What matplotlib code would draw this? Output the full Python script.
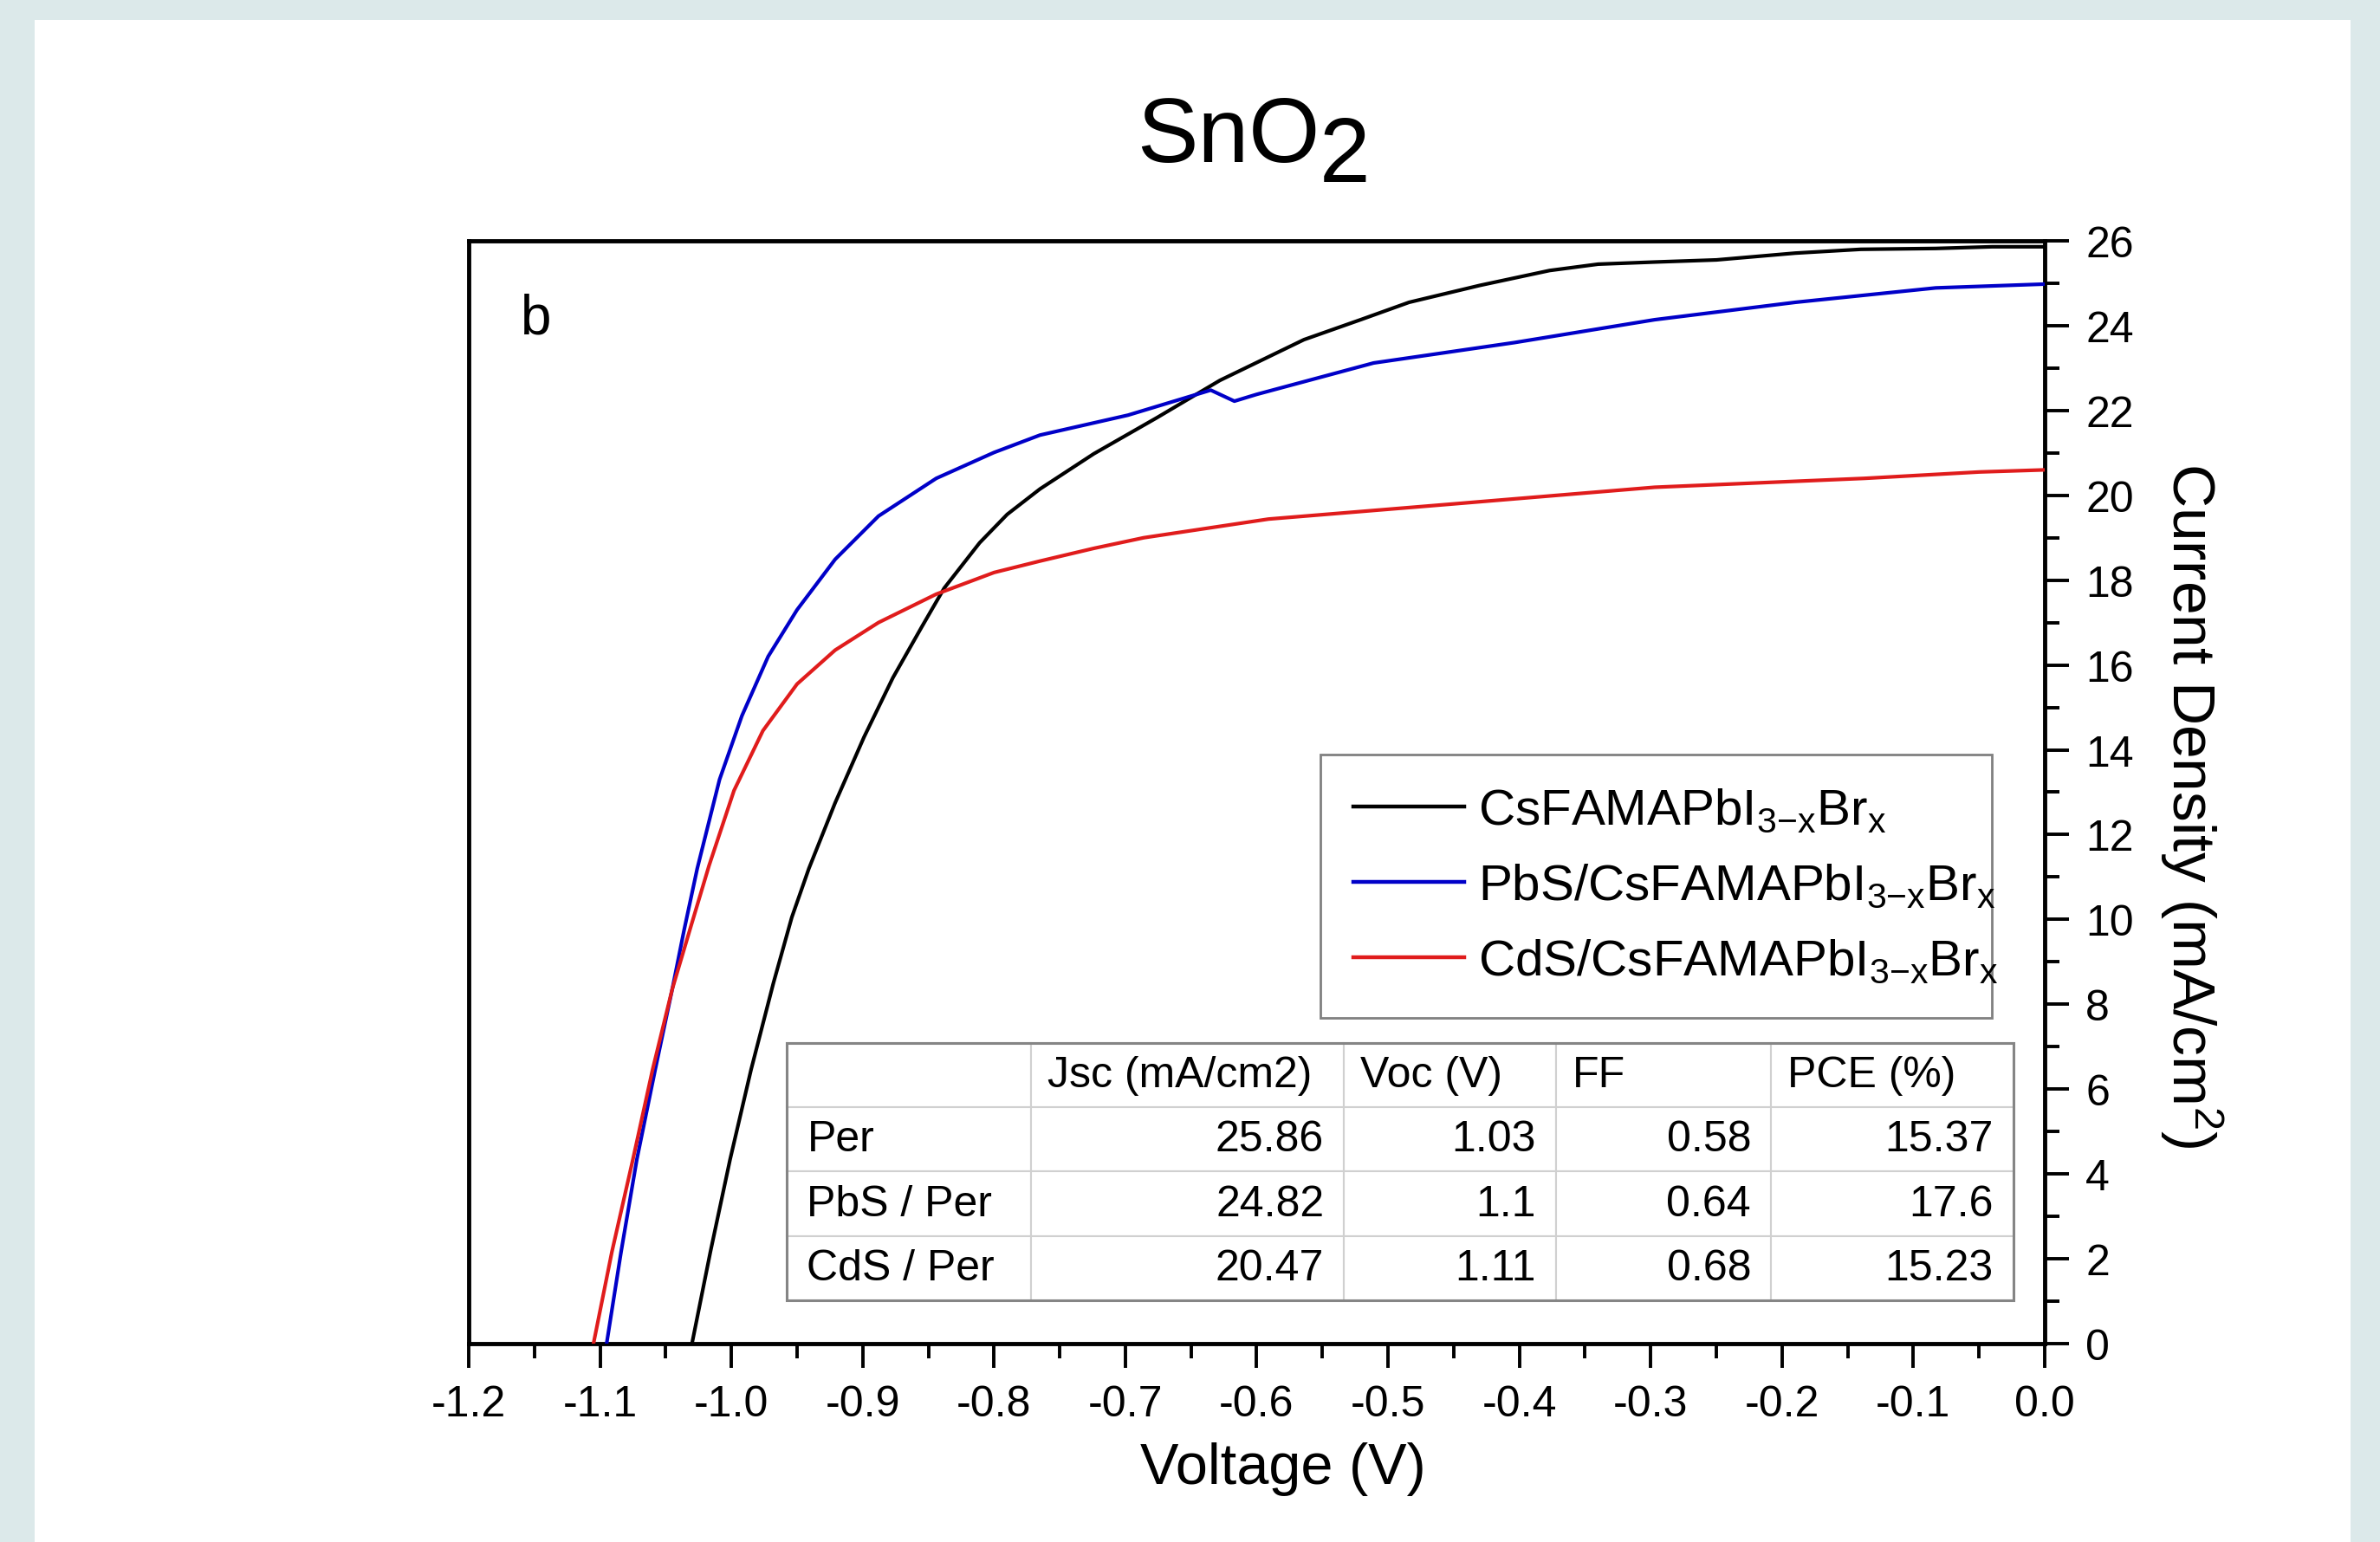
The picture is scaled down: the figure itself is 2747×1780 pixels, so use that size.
import matplotlib
matplotlib.use('Agg')
import matplotlib.pyplot as plt
from matplotlib.patches import Rectangle
from matplotlib.ticker import MultipleLocator, FuncFormatter

plt.rcParams['font.family'] = ['Liberation Sans', 'DejaVu Sans']
plt.rcParams['mathtext.fontset'] = 'custom'
plt.rcParams['mathtext.rm'] = 'Liberation Sans'
plt.rcParams['mathtext.it'] = 'Liberation Sans'
plt.rcParams['mathtext.bf'] = 'Liberation Sans:bold'
plt.rcParams['axes.unicode_minus'] = False

# J-V curves (V in volts, J in mA/cm2)
v_per = [-1.030, -1.016, -1.001, -0.985, -0.968, -0.954, -0.941, -0.921, -0.899, -0.877,
         -0.855, -0.838, -0.811, -0.790, -0.765, -0.724, -0.676, -0.628, -0.564, -0.520,
         -0.484, -0.430, -0.377, -0.340, -0.297, -0.250, -0.190, -0.140, -0.083, -0.040, 0.0]
j_per = [0.0, 2.16, 4.34, 6.46, 8.50, 10.05, 11.20, 12.75, 14.30, 15.70,
         16.90, 17.81, 18.88, 19.55, 20.15, 20.98, 21.83, 22.71, 23.67, 24.15,
         24.55, 24.95, 25.30, 25.45, 25.50, 25.55, 25.71, 25.80, 25.82, 25.86, 25.86]

v_pbs = [-1.095, -1.084, -1.072, -1.058, -1.045, -1.036, -1.026, -1.009, -0.992, -0.972,
         -0.950, -0.921, -0.888, -0.844, -0.800, -0.765, -0.698, -0.635, -0.617, -0.600,
         -0.511, -0.404, -0.297, -0.190, -0.083, 0.0]
j_pbs = [0.0, 2.16, 4.34, 6.46, 8.36, 9.75, 11.20, 13.30, 14.80, 16.20,
         17.30, 18.49, 19.51, 20.40, 21.01, 21.42, 21.89, 22.48, 22.22, 22.38,
         23.12, 23.60, 24.14, 24.55, 24.89, 24.98]

v_cds = [-1.105, -1.091, -1.075, -1.060, -1.045, -1.031, -1.017, -0.998, -0.976, -0.950,
         -0.921, -0.888, -0.844, -0.800, -0.765, -0.724, -0.686, -0.591, -0.457, -0.297,
         -0.137, -0.050, 0.0]
j_cds = [0.0, 2.16, 4.34, 6.46, 8.36, 9.82, 11.27, 13.04, 14.45, 15.55,
         16.35, 17.00, 17.67, 18.18, 18.45, 18.75, 19.00, 19.44, 19.78, 20.19,
         20.40, 20.55, 20.60]

labels = [r'CsFAMAPbI$_{3\mathrm{-}x}$Br$_x$',
          r'PbS/CsFAMAPbI$_{3\mathrm{-}x}$Br$_x$',
          r'CdS/CsFAMAPbI$_{3\mathrm{-}x}$Br$_x$']
colors = ['#000000', '#0000c8', '#e01c1c']

# device parameters table
row_names = ['Per', 'PbS / Per', 'CdS / Per']
col_names = ['Jsc (mA/cm2)', 'Voc (V)', 'FF', 'PCE (%)']
jsc = ['25.86', '24.82', '20.47']
voc = ['1.03', '1.1', '1.11']
ff = ['0.58', '0.64', '0.68']
pce = ['15.37', '17.6', '15.23']

fig = plt.figure(figsize=(27.47, 17.81), dpi=100, facecolor='#dce9ea')
fig.add_artist(Rectangle((0.01456, 0), 0.9731, 0.98652, transform=fig.transFigure,
                         facecolor='white', edgecolor='none', zorder=-1))

ax = fig.add_axes([0.19694, 0.12858, 0.66218, 0.71477])

for v, j, lab, c in zip([v_per, v_pbs, v_cds], [j_per, j_pbs, j_cds], labels, colors):
    ax.plot(v, j, color=c, lw=3.0, label=lab, zorder=3, solid_joinstyle='round')

ax.set_xlim(-1.2, 0.0)
ax.set_ylim(0, 26)

for s in ax.spines.values():
    s.set_linewidth(3.5)

ax.xaxis.set_major_locator(MultipleLocator(0.1))
ax.xaxis.set_minor_locator(MultipleLocator(0.05))
ax.xaxis.set_major_formatter(FuncFormatter(lambda v, p: '%.1f' % (0.0 if abs(v) < 1e-9 else v)))
ax.yaxis.set_major_locator(MultipleLocator(2))
ax.yaxis.set_minor_locator(MultipleLocator(1))
ax.yaxis.tick_right()
ax.tick_params(which='major', direction='out', length=20, width=2.8, labelsize=36, pad=14)
ax.tick_params(which='minor', direction='out', length=12, width=2.8)
ax.tick_params(axis='y', which='both', left=False, right=True)
ax.tick_params(axis='x', which='both', top=False, bottom=True)

ax.set_xlabel('Voltage (V)', fontsize=48, va='baseline')
ax.xaxis.set_label_coords(0.5168, -0.1265)
ax.yaxis.set_label_position('right')
ax.set_ylabel('Current Density (mA/cm$^2$)', fontsize=50, rotation=270, va='center', ha='center')
ax.yaxis.set_label_coords(1.093, 0.4886)

ax.text(0.033, 0.9167, 'b', fontsize=46, transform=ax.transAxes, ha='left', va='baseline')

leg = ax.legend(loc='upper left', bbox_to_anchor=(0.5404, 0.2985, 0.4261, 0.2357), mode='expand',
                fontsize=42, frameon=True, fancybox=False, framealpha=1, edgecolor='#808080',
                handlelength=2.2, handletextpad=0.27, borderpad=0.65, labelspacing=0.56,
                borderaxespad=0)
leg.get_frame().set_linewidth(2.0)
for h in leg.get_lines():
    h.set_linewidth(3.2)

cell_text = [list(r) for r in zip(row_names, jsc, voc, ff, pce)]
col_w = [282, 361, 245, 248, 280]
tab = ax.table(cellText=cell_text, colLabels=[''] + col_names, colWidths=col_w,
               bbox=[0.2020, 0.0393, 0.7782, 0.2333], cellLoc='right')
tab.auto_set_font_size(False)
tab.set_fontsize(36)
tab.set_zorder(4)
for (r, c), cell in tab.get_celld().items():
    cell.set_edgecolor('#d0d0d0')
    cell.set_linewidth(1.5)
    cell.set_facecolor('white')
    if r == 0 or c == 0:
        cell.get_text().set_ha('left')
        cell.PAD = (19 if r == 0 else 23) / col_w[c]
    else:
        cell.PAD = 23 / col_w[c]
ax.add_patch(Rectangle((0.2020, 0.0393), 0.7782, 0.2333, transform=ax.transAxes,
                       fill=False, edgecolor='#858585', lw=2.2, zorder=5))

# title, the 2 is full size and set lower
fig.text(0.5544, 0.895, 'SnO', fontsize=76, ha='right', va='baseline')
fig.text(0.5544, 0.882, '2', fontsize=76, ha='left', va='baseline')

fig.savefig('out.png', dpi=100)
